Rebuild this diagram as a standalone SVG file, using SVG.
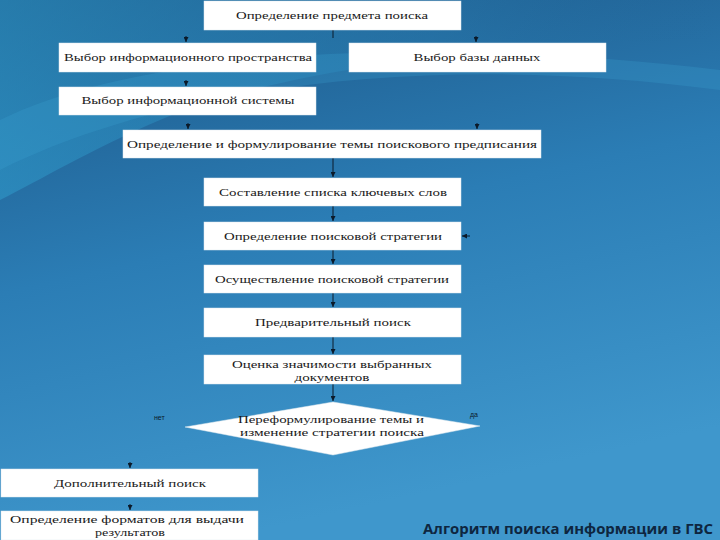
<svg xmlns="http://www.w3.org/2000/svg" width="720" height="540" viewBox="0 0 720 540">
<defs>
<linearGradient id="bg" x1="0" y1="0" x2="0.3" y2="1">
<stop offset="0" stop-color="#1c5585"/>
<stop offset="0.5" stop-color="#2b7db5"/>
<stop offset="1" stop-color="#3f97cc"/>
</linearGradient>
<linearGradient id="sw" x1="0" y1="0" x2="1" y2="0">
<stop offset="0" stop-color="#2f9ccc" stop-opacity="0.9"/>
<stop offset="0.6" stop-color="#2a85b8" stop-opacity="0.5"/>
<stop offset="1" stop-color="#1f6497" stop-opacity="0"/>
</linearGradient>
<marker id="ah" viewBox="0 0 10 10" refX="10" refY="5" markerWidth="5" markerHeight="5" orient="auto">
<path d="M0,0 L10,5 L0,10 Z" fill="#0b1a2a"/>
</marker>
<style>
.box{fill:#ffffff;stroke:#dfe8ef;stroke-width:0.5}
.t{font-family:"Liberation Serif","DejaVu Serif",serif;font-size:11px;fill:#1a1a1a;text-anchor:middle}
.t2{font-family:"Liberation Serif","DejaVu Serif",serif;font-size:10px;fill:#1a1a1a;text-anchor:middle}
.c{stroke:#0b1a2a;stroke-width:1;fill:none}
.lbl{font-family:"Liberation Sans",sans-serif;font-size:7px;fill:#0b1a2a}
</style>
</defs>
<rect width="720" height="540" fill="url(#bg)"/>
<path d="M0,0 L720,0 L720,40 C560,40 300,60 160,120 C90,150 40,180 0,200 Z" fill="url(#sw)" opacity="0.6"/>
<path d="M0,120 C120,60 380,30 720,70 L720,90 C420,50 160,90 0,170 Z" fill="#3aa3d2" opacity="0.25"/>
<g id="connectors">
<line class="c" x1="333" y1="30" x2="333" y2="38"/>
<line class="c" x1="186" y1="36" x2="186" y2="42" marker-end="url(#ah)"/>
<line class="c" x1="476" y1="36" x2="476" y2="42" marker-end="url(#ah)"/>
<line class="c" x1="186" y1="80" x2="186" y2="86" marker-end="url(#ah)"/>
<line class="c" x1="188" y1="123" x2="188" y2="129" marker-end="url(#ah)"/>
<line class="c" x1="477" y1="123" x2="477" y2="129" marker-end="url(#ah)"/>
<line class="c" x1="333" y1="158" x2="333" y2="177" marker-end="url(#ah)"/>
<line class="c" x1="333" y1="206" x2="333" y2="221" marker-end="url(#ah)"/>
<line class="c" x1="470" y1="236" x2="462" y2="236" marker-end="url(#ah)"/>
<line class="c" x1="333" y1="250" x2="333" y2="264" marker-end="url(#ah)"/>
<line class="c" x1="333" y1="293" x2="333" y2="307" marker-end="url(#ah)"/>
<line class="c" x1="333" y1="337" x2="333" y2="354" marker-end="url(#ah)"/>
<line class="c" x1="333" y1="384" x2="333" y2="401" marker-end="url(#ah)"/>
<line class="c" x1="130" y1="462" x2="130" y2="468" marker-end="url(#ah)"/>
<line class="c" x1="130" y1="504" x2="130" y2="510" marker-end="url(#ah)"/>
<text class="lbl" x="154" y="420">нет</text>
<text class="lbl" x="470" y="417">да</text>
</g>
<g id="n1"><rect class="box" x="204" y="1" width="257" height="29"/><text class="t" x="332" y="19" textLength="192" lengthAdjust="spacingAndGlyphs">Определение предмета поиска</text></g>
<g id="n2"><rect class="box" x="59" y="43" width="257" height="29"/><text class="t" x="188" y="61" textLength="248" lengthAdjust="spacingAndGlyphs">Выбор информационного пространства</text></g>
<g id="n3"><rect class="box" x="349" y="43" width="257" height="29"/><text class="t" x="477" y="61" textLength="127" lengthAdjust="spacingAndGlyphs">Выбор базы данных</text></g>
<g id="n4"><rect class="box" x="59" y="87" width="257" height="28"/><text class="t" x="188" y="104" textLength="213" lengthAdjust="spacingAndGlyphs">Выбор информационной системы</text></g>
<g id="n5"><rect class="box" x="123" y="130" width="418" height="28"/><text class="t" x="332" y="148" textLength="410" lengthAdjust="spacingAndGlyphs">Определение и формулирование темы поискового предписания</text></g>
<g id="n6"><rect class="box" x="204" y="178" width="257" height="28"/><text class="t" x="333" y="196" textLength="228" lengthAdjust="spacingAndGlyphs">Составление списка ключевых слов</text></g>
<g id="n7"><rect class="box" x="204" y="222" width="257" height="28"/><text class="t" x="333" y="240" textLength="218" lengthAdjust="spacingAndGlyphs">Определение поисковой стратегии</text></g>
<g id="n8"><rect class="box" x="204" y="265" width="257" height="28"/><text class="t" x="332" y="283" textLength="234" lengthAdjust="spacingAndGlyphs">Осуществление поисковой стратегии</text></g>
<g id="n9"><rect class="box" x="204" y="308" width="257" height="29"/><text class="t" x="333" y="326" textLength="156" lengthAdjust="spacingAndGlyphs">Предварительный поиск</text></g>
<g id="n10"><rect class="box" x="204" y="355" width="257" height="29"/><text class="t2" x="332" y="368" textLength="200" lengthAdjust="spacingAndGlyphs">Оценка значимости выбранных</text><text class="t2" x="332" y="381" textLength="75" lengthAdjust="spacingAndGlyphs">документов</text></g>
<g id="n11"><path class="box" d="M333,402 L480,426 L333,455 L185,427 Z"/><text class="t2" x="331" y="423" textLength="186" lengthAdjust="spacingAndGlyphs">Переформулирование темы и</text><text class="t2" x="332" y="436" textLength="184" lengthAdjust="spacingAndGlyphs">изменение стратегии поиска</text></g>
<g id="n12"><rect class="box" x="1" y="469" width="257" height="28"/><text class="t" x="130" y="487" textLength="152" lengthAdjust="spacingAndGlyphs">Дополнительный поиск</text></g>
<g id="n13"><rect class="box" x="1" y="511" width="257" height="29"/><text class="t2" x="127" y="523" textLength="234" lengthAdjust="spacingAndGlyphs">Определение форматов для выдачи</text><text class="t2" x="130" y="536" textLength="70" lengthAdjust="spacingAndGlyphs">результатов</text></g>
<text x="423" y="534" font-family="'Open Sans','Liberation Sans',sans-serif" font-size="15" font-weight="bold" fill="#0e2640" textLength="290" lengthAdjust="spacingAndGlyphs">Алгоритм поиска информации в ГВС</text>
</svg>
